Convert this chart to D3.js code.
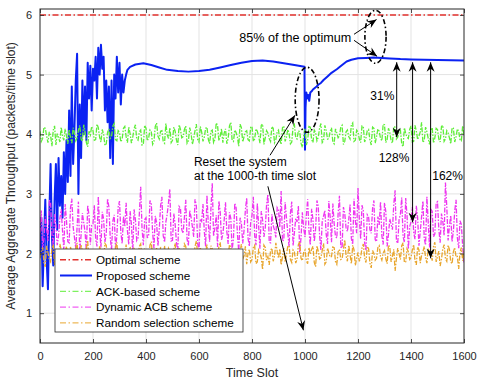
<!DOCTYPE html>
<html>
<head>
<meta charset="utf-8">
<script src="https://cdn.jsdelivr.net/npm/d3@7/dist/d3.min.js"></script>
<style>
  html, body { margin: 0; padding: 0; background: #fff; }
  svg { display: block; font-family: "Liberation Sans", Arial, sans-serif; }
</style>
</head>
<body>
<svg id="chart" width="478" height="384"></svg>
<script>
// ---- data ----
const xTicks = [0, 200, 400, 600, 800, 1000, 1200, 1400, 1600];
const yTicks = [1, 2, 3, 4, 5, 6];
const seriesNames = ["Optimal scheme", "Proposed scheme", "ACK-based scheme",
                     "Dynamic ACB scheme", "Random selection scheme"];

const optimalValue = 6.0;

// proposed scheme, every 5 slots from 0 to 330 (learning phase)
const proposedEarly = [
  2.0, 2.6, 1.45, 2.2, 2.9, 1.9, 1.4, 2.6, 3.5, 2.3,
  1.8, 2.9, 3.5, 2.4, 3.6, 2.8, 3.3, 2.6, 3.7, 3.0,
  3.9, 3.2, 4.4, 3.3, 4.8, 3.5, 4.1, 4.9, 5.35, 3.0,
  4.5, 3.6, 4.9, 4.0, 4.8, 3.9, 5.2, 4.6, 5.15, 4.4,
  5.1, 4.9, 5.3, 4.6, 5.45, 5.0, 5.5, 5.1, 5.3, 4.4,
  4.9, 4.2, 4.8, 3.6, 4.9, 3.5, 5.0, 4.6, 5.3, 4.7,
  5.2, 4.5, 5.0, 4.7, 4.9, 5.0, 5.08
];
// proposed scheme after convergence (incl. the reset at slot 1000)
const proposedLateT = [
  340, 360, 390, 420, 450, 480, 520, 560, 600, 640, 680, 720, 760, 800, 840,
  880, 920, 960, 998, 1000, 1002, 1005, 1008, 1012, 1016, 1020, 1025, 1030,
  1038, 1044, 1050, 1060, 1070, 1085, 1100, 1120, 1140, 1157, 1175, 1200,
  1230, 1260, 1290, 1320, 1360, 1400, 1450, 1500, 1550, 1600
];
const proposedLateV = [
  5.13, 5.17, 5.19, 5.16, 5.12, 5.08, 5.06, 5.05, 5.06, 5.08, 5.12, 5.16, 5.20, 5.23, 5.235,
  5.22, 5.19, 5.16, 5.13, 3.74, 4.45, 4.70, 4.60, 4.66, 4.56, 4.70, 4.72, 4.75,
  4.78, 4.80, 4.83, 4.86, 4.91, 4.97, 5.03, 5.09, 5.16, 5.22, 5.25, 5.275,
  5.28, 5.285, 5.28, 5.27, 5.26, 5.255, 5.25, 5.245, 5.24, 5.235
];

// noisy baselines: values at slots 0,10,..,1600 and at slots 5,15,..,1595
const noisyStep = 5;
const ackBased = [
  4.05, 3.93, 4.10, 3.86, 3.98, 4.07, 3.82, 3.95, 4.12, 3.90,
  3.97, 4.08, 3.85, 4.02, 3.94, 4.15, 3.88, 4.03, 3.79, 3.99,
  4.06, 3.91, 4.11, 3.87, 4.00, 3.84, 4.09, 3.96, 4.18, 3.89,
  4.03, 3.92, 4.13, 3.86, 4.01, 3.95, 4.16, 3.90, 4.07, 3.83,
  4.10, 3.94, 4.04, 3.88, 4.19, 3.92, 4.06, 3.85, 3.99, 4.11,
  3.90, 4.05, 3.82, 4.08, 3.96, 4.14, 3.89, 4.02, 3.93, 4.17,
  3.87, 4.04, 3.95, 4.12, 3.84, 4.07, 3.91, 4.15, 3.97, 3.86,
  4.09, 3.93, 4.20, 3.88, 4.03, 3.80, 4.11, 3.96, 4.06, 3.89,
  4.13, 3.92, 4.05, 3.85, 4.17, 3.94, 4.02, 3.88, 4.10, 3.91,
  4.07, 3.83, 4.14, 3.95, 4.01, 3.87, 4.16, 3.92, 4.04, 3.78,
  4.09, 3.90, 4.12, 3.86, 4.03, 3.95, 4.18, 3.89, 4.06, 3.93,
  4.11, 3.84, 4.02, 3.97, 4.15, 3.88, 4.07, 3.92, 4.19, 3.90,
  4.04, 3.86, 4.13, 3.94, 4.08, 3.82, 4.10, 3.96, 4.05, 3.89,
  4.16, 3.91, 4.03, 3.85, 4.12, 3.95, 4.07, 3.79, 4.01, 3.93,
  4.14, 3.88, 4.06, 3.97, 4.20, 3.90, 4.04, 3.83, 4.11, 3.94,
  4.08, 3.87, 4.15, 3.92, 4.02, 3.84, 4.10, 3.96, 4.05, 3.89,
  3.98
];
const ackBasedMid = [
  3.88, 4.12, 3.97, 4.04, 3.80, 4.14, 4.01, 3.87, 3.96, 4.09,
  3.84, 3.95, 4.11, 3.89, 4.07, 3.92, 4.16, 3.86, 4.05, 4.13,
  3.90, 4.17, 3.95, 4.08, 3.81, 4.03, 3.93, 4.14, 3.91, 4.06,
  3.87, 4.10, 3.96, 4.12, 3.85, 4.09, 3.92, 4.04, 3.82, 4.15,
  3.89, 4.07, 3.83, 4.13, 3.97, 4.05, 3.88, 4.18, 3.93, 3.86,
  4.12, 3.90, 4.16, 3.94, 4.08, 3.85, 4.11, 3.83, 4.06, 3.91,
  4.13, 3.88, 4.10, 3.92, 4.05, 3.86, 4.19, 3.89, 4.09, 4.02,
  3.84, 4.14, 3.90, 4.07, 3.95, 4.17, 3.87, 4.04, 3.91, 4.12,
  3.88, 4.09, 3.97, 4.15, 3.83, 4.06, 3.93, 4.13, 3.86, 4.04,
  3.90, 4.11, 3.88, 4.08, 3.84, 4.12, 3.94, 4.06, 3.85, 3.98,
  3.82, 4.13, 3.91, 4.07, 3.89, 4.10, 3.86, 4.15, 3.92, 4.05,
  3.87, 4.09, 3.94, 4.12, 3.83, 4.04, 3.96, 4.16, 3.88, 4.07,
  3.92, 4.14, 3.87, 4.06, 3.90, 4.12, 3.85, 4.09, 3.93, 4.17,
  3.86, 4.10, 3.89, 4.13, 3.92, 4.05, 3.84, 4.11, 3.95, 4.08,
  3.87, 4.15, 3.91, 4.04, 3.86, 4.12, 3.93, 4.07, 3.85, 4.10,
  3.92, 4.13, 3.88, 4.06, 3.94, 4.11, 3.87, 4.09, 3.90, 4.14
];
const dynamicAcb = [
  2.35, 2.08, 2.62, 2.21, 2.85, 2.12, 2.48, 2.30, 2.74, 2.05,
  2.55, 2.18, 2.92, 2.27, 2.44, 2.02, 2.68, 2.36, 2.81, 2.15,
  2.50, 2.24, 2.96, 2.10, 2.58, 2.33, 2.78, 2.06, 2.65, 2.29,
  2.88, 2.17, 2.46, 2.38, 2.71, 2.00, 2.57, 2.26, 3.12, 2.14,
  2.60, 2.31, 2.83, 2.09, 2.52, 2.40, 2.95, 2.19, 2.66, 3.08,
  2.22, 2.49, 2.04, 2.76, 2.34, 2.90, 2.13, 2.61, 2.28, 2.80,
  2.07, 2.54, 2.37, 2.98, 2.20, 3.18, 2.43, 2.11, 2.70, 2.32,
  2.86, 2.16, 2.59, 2.25, 2.77, 2.03, 2.51, 2.39, 2.93, 2.12,
  2.64, 2.30, 2.84, 2.08, 2.56, 2.42, 2.99, 2.18, 2.47, 2.27,
  2.73, 3.05, 2.23, 2.60, 2.11, 2.87, 2.35, 2.53, 2.01, 2.69,
  2.28, 2.91, 2.14, 2.57, 2.41, 2.79, 2.06, 2.63, 2.32, 2.88,
  2.19, 2.50, 2.26, 2.97, 2.09, 2.67, 2.37, 2.82, 2.15, 2.55,
  3.10, 2.24, 2.72, 2.05, 2.61, 2.34, 2.89, 2.20, 2.48, 2.30,
  2.85, 2.12, 2.58, 2.40, 3.06, 2.17, 2.66, 2.29, 2.93, 2.07,
  2.53, 2.36, 2.80, 2.13, 2.62, 2.25, 2.95, 2.10, 2.71, 2.33,
  2.87, 2.18, 2.54, 3.19, 2.22, 2.64, 2.38, 2.90, 2.09, 2.49,
  1.85
];
const dynamicAcbMid = [
  2.72, 2.25, 2.41, 2.90, 2.33, 2.66, 2.14, 2.59, 2.38, 2.83,
  2.20, 2.76, 2.45, 2.09, 2.87, 2.31, 2.52, 2.04, 2.64, 2.47,
  2.81, 2.12, 2.39, 2.70, 2.19, 2.92, 2.27, 2.55, 2.08, 2.78,
  2.36, 2.62, 2.85, 2.15, 2.49, 2.74, 2.22, 2.68, 2.42, 2.57,
  2.26, 2.89, 2.35, 2.63, 2.13, 2.80, 2.30, 2.53, 2.86, 2.21,
  2.67, 2.18, 2.79, 2.40, 2.61, 2.24, 2.72, 2.45, 2.91, 2.16,
  2.58, 2.83, 2.12, 2.50, 2.75, 2.29, 2.64, 2.88, 2.23, 2.56,
  2.37, 2.69, 2.06, 2.84, 2.33, 2.60, 2.17, 2.73, 2.26, 2.52,
  2.95, 2.14, 2.47, 2.71, 2.28, 2.82, 2.19, 2.66, 2.39, 2.77,
  2.44, 2.21, 2.86, 2.35, 2.68, 2.13, 2.59, 2.80, 2.27, 2.42,
  2.63, 2.38, 2.75, 2.20, 2.89, 2.31, 2.54, 2.72, 2.16, 2.61,
  2.84, 2.29, 2.67, 2.11, 2.78, 2.43, 2.56, 2.25, 2.92, 2.34,
  2.58, 2.81, 2.18, 2.65, 2.40, 2.76, 2.23, 2.62, 2.87, 2.15,
  2.70, 2.32, 2.49, 2.83, 2.21, 2.57, 2.94, 2.19, 2.64, 2.45,
  2.78, 2.24, 2.60, 2.37, 2.88, 2.14, 2.52, 2.74, 2.28, 2.85,
  2.41, 2.67, 2.30, 2.79, 2.46, 2.20, 2.71, 2.26, 2.55, 2.12
];
const randomSelection = [
  1.92, 2.10, 1.78, 2.02, 1.86, 2.15, 1.95, 1.72, 2.06, 1.89,
  2.12, 1.83, 2.00, 1.94, 2.18, 1.80, 2.05, 1.90, 2.22, 1.85,
  1.98, 2.08, 1.76, 2.03, 1.91, 2.14, 1.84, 2.01, 1.96, 2.19,
  1.82, 2.07, 1.93, 1.70, 2.11, 1.88, 2.04, 1.97, 2.16, 1.81,
  2.02, 1.90, 2.20, 1.86, 2.09, 1.79, 1.99, 2.13, 1.87, 2.05,
  1.94, 2.17, 1.83, 2.00, 1.91, 2.12, 1.75, 2.06, 1.95, 2.21,
  1.85, 2.03, 1.92, 2.15, 1.80, 2.08, 1.97, 1.88, 2.19, 1.84,
  2.04, 1.93, 2.11, 1.77, 2.02, 1.89, 2.16, 1.96, 1.82, 2.07,
  1.90, 2.14, 1.86, 2.01, 1.73, 2.10, 1.95, 2.05, 1.87, 2.18,
  1.92, 1.81, 2.09, 1.98, 2.13, 1.85, 2.03, 1.90, 2.20, 1.88,
  2.06, 1.83, 1.99, 2.12, 1.78, 2.04, 1.93, 2.17, 1.86, 2.01,
  1.95, 2.10, 1.82, 2.07, 1.91, 2.23, 1.87, 1.98, 2.14, 1.80,
  2.02, 1.94, 2.16, 1.85, 2.08, 1.76, 2.00, 1.92, 2.13, 1.89,
  2.05, 1.83, 2.11, 1.96, 1.71, 2.09, 1.90, 2.18, 1.86, 2.03,
  1.93, 2.15, 1.81, 2.06, 1.97, 2.12, 1.84, 2.01, 1.88, 2.19,
  1.95, 1.79, 2.08, 1.91, 2.14, 1.86, 2.03, 1.94, 1.74, 2.10,
  2.04
];
const randomSelectionMid = [
  2.05, 1.84, 2.13, 1.90, 2.08, 1.81, 2.01, 2.16, 1.87, 2.03,
  1.93, 2.11, 1.78, 2.07, 1.88, 2.14, 1.96, 2.09, 1.83, 2.04,
  1.89, 1.95, 2.12, 1.85, 2.17, 1.92, 2.06, 1.80, 2.10, 1.87,
  2.03, 1.91, 2.15, 1.86, 1.98, 2.08, 1.82, 2.12, 1.90, 2.06,
  1.85, 2.14, 1.93, 2.01, 1.78, 2.11, 1.92, 1.84, 2.09, 1.95,
  2.07, 1.86, 2.10, 1.89, 2.16, 1.93, 2.04, 1.83, 2.12, 1.98,
  2.09, 1.88, 2.02, 1.84, 2.13, 1.92, 1.80, 2.11, 1.94, 2.05,
  1.87, 2.15, 1.90, 2.08, 1.85, 2.03, 1.91, 2.12, 2.00, 1.86,
  2.10, 1.83, 2.06, 1.93, 2.14, 1.89, 1.81, 2.09, 1.96, 2.04,
  2.08, 1.94, 1.86, 2.12, 1.90, 2.06, 1.84, 2.15, 1.92, 2.02,
  1.88, 2.10, 2.07, 1.85, 2.13, 1.91, 2.05, 1.82, 2.09, 1.94,
  2.11, 1.87, 2.03, 1.90, 2.07, 1.96, 2.14, 1.83, 2.06, 1.92,
  1.87, 2.09, 1.93, 2.12, 1.84, 2.05, 1.89, 2.10, 1.95, 2.01,
  1.91, 2.14, 1.86, 2.07, 1.92, 2.00, 2.13, 1.85, 2.08, 1.90,
  2.06, 1.88, 2.11, 1.84, 2.03, 1.93, 2.09, 1.97, 2.12, 1.86,
  2.04, 1.91, 2.15, 1.87, 2.07, 1.83, 2.10, 1.95, 2.02, 1.88
];

// ---- layout ----
const margin = {left: 40, top: 9, right: 14, bottom: 41};
const W = 478, H = 384;
const iw = W - margin.left - margin.right;   // 424
const ih = H - margin.top - margin.bottom;   // 334

const colors = {
  optimal: "#e2302c",
  proposed: "#0b22f2",
  ack: "#5eee38",
  acb: "#ee36f0",
  random: "#e8a62e",
  axis: "#262626",
  grid: "#e3e3e3"
};
const dashDot = "6,2.5,1.5,2.5";
const noisyDash = "5,1.5,1.5,1.5";

const svg = d3.select("#chart");
const g = svg.append("g").attr("transform", `translate(${margin.left},${margin.top})`);

const x = d3.scaleLinear().domain([0, 1600]).range([0, iw]);
const y = d3.scaleLinear().domain([0.5, 6.1]).range([ih, 0]);

svg.append("defs").append("clipPath").attr("id", "plot-clip")
  .append("rect").attr("width", iw).attr("height", ih);

// arrow head (matlab style, notched)
svg.select("defs").append("marker")
  .attr("id", "head")
  .attr("viewBox", "-10 -5 11 10")
  .attr("refX", 0).attr("refY", 0)
  .attr("markerUnits", "userSpaceOnUse")
  .attr("markerWidth", 11).attr("markerHeight", 10)
  .attr("orient", "auto-start-reverse")
  .append("path")
  .attr("d", "M0,0 L-9.5,-4 L-6.5,0 L-9.5,4 Z")
  .attr("fill", "#000");

// grid
g.append("g").selectAll("line").data(xTicks.slice(1, -1)).join("line")
  .attr("x1", d => x(d)).attr("x2", d => x(d))
  .attr("y1", 0).attr("y2", ih)
  .attr("stroke", colors.grid).attr("stroke-width", 1);
g.append("g").selectAll("line").data(yTicks).join("line")
  .attr("x1", 0).attr("x2", iw)
  .attr("y1", d => y(d)).attr("y2", d => y(d))
  .attr("stroke", colors.grid).attr("stroke-width", 1);

// ---- series ----
const plot = g.append("g").attr("clip-path", "url(#plot-clip)");
const line = d3.line().x(d => x(d[0])).y(d => y(d[1]));

// merge the on-grid and half-step readings into one series
const noisy = (main, mid) => d3.merge(main.map((v, i) =>
  i < mid.length ? [[2 * i * noisyStep, v], [(2 * i + 1) * noisyStep, mid[i]]]
                 : [[2 * i * noisyStep, v]]));
const proposed = proposedEarly.map((v, i) => [i * 5, v])
  .concat(proposedLateT.map((t, i) => [t, proposedLateV[i]]));

plot.append("path")
  .attr("d", line([[0, optimalValue], [1600, optimalValue]]))
  .attr("fill", "none").attr("stroke", colors.optimal)
  .attr("stroke-width", 1.5).attr("stroke-dasharray", dashDot);

plot.append("path")
  .attr("d", line(proposed))
  .attr("fill", "none").attr("stroke", colors.proposed)
  .attr("stroke-width", 2).attr("stroke-linejoin", "round");

[[ackBased, ackBasedMid, colors.ack],
 [dynamicAcb, dynamicAcbMid, colors.acb],
 [randomSelection, randomSelectionMid, colors.random]]
  .forEach(([main, mid, c]) => {
    plot.append("path")
      .attr("d", line(noisy(main, mid)))
      .attr("fill", "none").attr("stroke", c)
      .attr("stroke-width", 1.3).attr("stroke-dasharray", noisyDash);
  });

// ---- axes ----
const fmt = d3.format("d");
const xAxis = d3.axisBottom(x).tickValues(xTicks).tickFormat(fmt)
  .tickSizeInner(-4).tickSizeOuter(0).tickPadding(9);
const yAxis = d3.axisLeft(y).tickValues(yTicks).tickFormat(fmt)
  .tickSizeInner(-4).tickSizeOuter(0).tickPadding(8);

g.append("g").attr("transform", `translate(0,${ih})`).call(xAxis);
g.append("g").call(yAxis);
// top and right ticks (box on)
g.append("g").call(d3.axisTop(x).tickValues(xTicks).tickSizeInner(-4).tickSizeOuter(0).tickFormat(""));
g.append("g").attr("transform", `translate(${iw},0)`)
  .call(d3.axisRight(y).tickValues(yTicks).tickSizeInner(-4).tickSizeOuter(0).tickFormat(""));

g.selectAll(".domain").remove();
g.selectAll(".tick line").attr("stroke", colors.axis).attr("stroke-width", 0.8);
g.selectAll(".tick text").attr("fill", colors.axis)
  .style("font-size", "11px").style("font-family", "Liberation Sans, Arial, sans-serif");

g.append("rect").attr("width", iw).attr("height", ih)
  .attr("fill", "none").attr("stroke", colors.axis).attr("stroke-width", 1);

svg.append("text")
  .attr("x", margin.left + iw / 2).attr("y", 377)
  .attr("text-anchor", "middle").attr("fill", colors.axis)
  .style("font-size", "12.5px")
  .text("Time Slot");

svg.append("text")
  .attr("transform", `translate(15,${margin.top + ih / 2}) rotate(-90)`)
  .attr("text-anchor", "middle").attr("fill", colors.axis)
  .style("font-size", "12px")
  .text("Average Aggregate Throughput (packets/time slot)");

// ---- annotations ----
const ann = g.append("g");
const arrow = (t0, v0, t1, v1, both) => {
  const p = ann.append("line")
    .attr("x1", x(t0)).attr("y1", y(v0))
    .attr("x2", x(t1)).attr("y2", y(v1))
    .attr("stroke", "#000").attr("stroke-width", 1)
    .attr("marker-end", "url(#head)");
  if (both) p.attr("marker-start", "url(#head)");
};
const label = (t, v, txt, anchor) => ann.append("text")
  .attr("x", x(t)).attr("y", y(v))
  .attr("text-anchor", anchor || "start")
  .attr("fill", "#000")
  .style("font-size", "12px")
  .text(txt);
const ellipse = (t, v, rt, rv) => ann.append("ellipse")
  .attr("cx", x(t)).attr("cy", y(v))
  .attr("rx", x(rt) - x(0)).attr("ry", y(0) - y(rv))
  .attr("fill", "none").attr("stroke", "#000")
  .attr("stroke-width", 1.6).attr("stroke-dasharray", "5,2.5,1.5,2.5");

ellipse(1266, 5.634, 40, 0.444);
ellipse(1008, 4.578, 45, 0.545);

label(752, 5.547, "85% of the optimum").style("font-size", "12.6px");
arrow(1185, 5.676, 1270, 5.923);
arrow(1185, 5.575, 1272, 5.307);

label(581, 3.468, "Reset the system");
label(581, 3.228, "at the 1000-th time slot");
arrow(868, 3.647, 962, 4.318);
arrow(860, 3.127, 994, 0.713);

label(1292, 4.569, "31%", "middle");
label(1336, 3.535, "128%", "middle");
label(1538, 3.228, "162%", "middle");
arrow(1346, 5.207, 1346, 3.949, true);
arrow(1406, 5.207, 1406, 2.524, true);
arrow(1474, 5.207, 1474, 1.92, true);

// ---- legend ----
const leg = svg.append("g").attr("transform", "translate(55,249)");
leg.append("rect").attr("width", 188).attr("height", 83)
  .attr("fill", "#fff").attr("stroke", colors.axis).attr("stroke-width", 0.8);
const legStyles = [
  {c: colors.optimal, w: 1.5, dash: dashDot},
  {c: colors.proposed, w: 2, dash: null},
  {c: colors.ack, w: 1, dash: dashDot},
  {c: colors.acb, w: 1, dash: dashDot},
  {c: colors.random, w: 1, dash: dashDot}
];
const rows = leg.selectAll("g").data(seriesNames).join("g")
  .attr("transform", (d, i) => `translate(0,${10.7 + i * 15.8})`);
rows.append("line")
  .attr("x1", 5).attr("x2", 37).attr("y1", 0).attr("y2", 0)
  .attr("stroke", (d, i) => legStyles[i].c)
  .attr("stroke-width", (d, i) => legStyles[i].w)
  .attr("stroke-dasharray", (d, i) => legStyles[i].dash);
rows.append("text")
  .attr("x", 41).attr("y", 4.2)
  .attr("fill", "#000")
  .style("font-size", "11.7px")
  .text(d => d);
</script>
</body>
</html>
